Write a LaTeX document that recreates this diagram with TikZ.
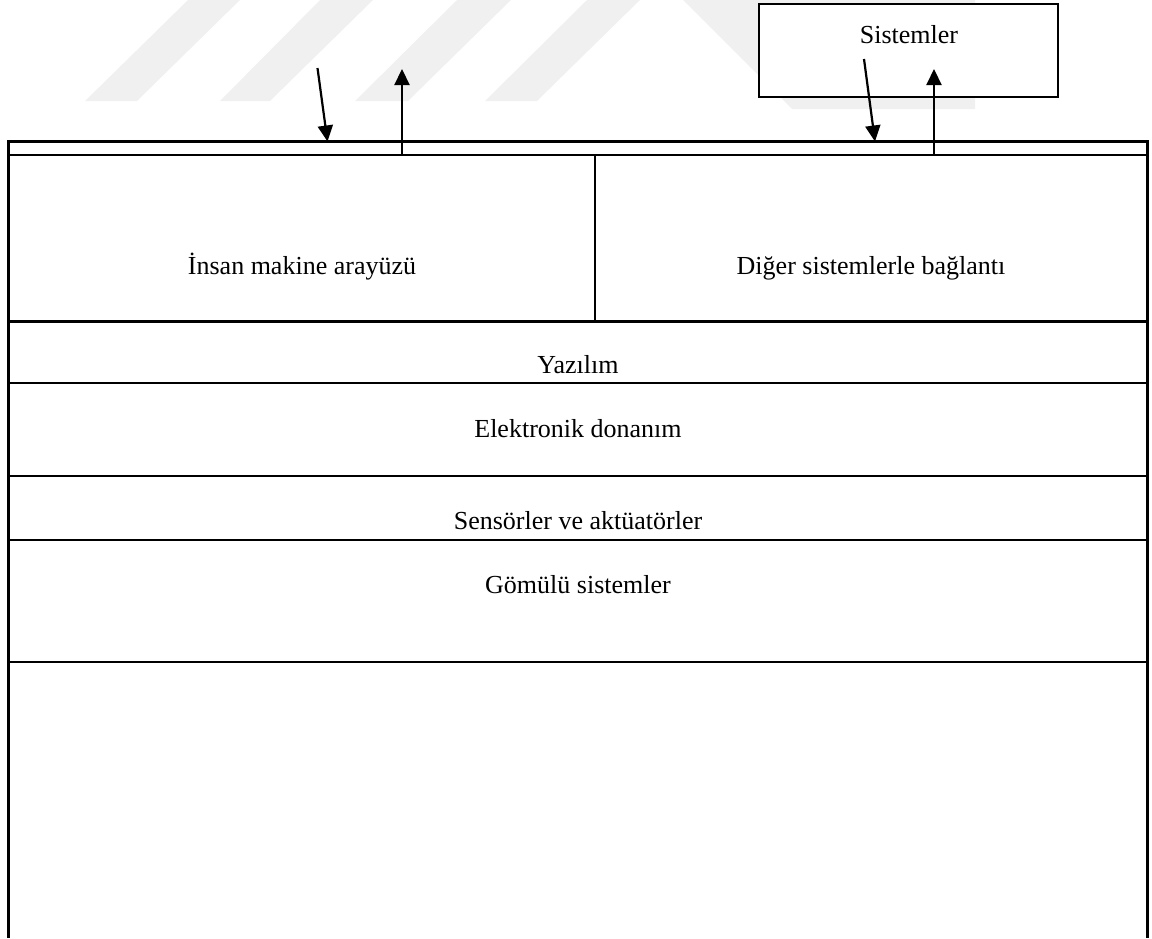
\documentclass[tikz,border=0pt]{standalone}
\usepackage{fontspec}
\setmainfont{Liberation Serif}
\usetikzlibrary{arrows.meta}
\tikzset{
  rowbox/.style={draw, line width=2.5pt, inner sep=0pt, outer sep=0pt, anchor=north west},
  lbl/.style={anchor=base, inner sep=0pt, font=\fontsize{26}{30}\selectfont},
  conn/.style={line width=2.2pt, -{Triangle[length=16pt,width=15pt]}},
  wmark/.style={fill=black!6, draw=none}
}
\begin{document}
\begin{tikzpicture}[x=1pt, y=-1pt]
\useasboundingbox (0,0) rectangle (1152,938);
% faint watermark
\fill[wmark] (85,101) -- (137,101) -- (240,0) -- (188,0) -- cycle;
\fill[wmark] (220,101) -- (270,101) -- (373,0) -- (320,0) -- cycle;
\fill[wmark] (355,101) -- (408,101) -- (511,0) -- (457,0) -- cycle;
\fill[wmark] (485,101) -- (537,101) -- (640,0) -- (587,0) -- cycle;
\fill[wmark] (683,0) -- (975,0) -- (975,109) -- (792,109) -- cycle;
% Sistemler box
\node[rowbox, fill=white, line width=2.2pt, minimum width=299pt, minimum height=93pt] (sys) at (759,4) {};
\node[lbl] (sysT) at (909,43) {Sistemler};
% rows
\node[rowbox, fill=white, minimum width=1139pt, minimum height=13.5pt] (strip) at (8.5,141.5) {};
\node[rowbox, minimum width=586.5pt, minimum height=166.5pt] (hmi) at (8.5,155) {};
\node[rowbox, minimum width=552.5pt, minimum height=166.5pt] (con) at (595,155) {};
\node[rowbox, minimum width=1139pt, minimum height=61.5pt] (sw) at (8.5,321.5) {};
\node[rowbox, minimum width=1139pt, minimum height=93pt] (hw) at (8.5,383) {};
\node[rowbox, minimum width=1139pt, minimum height=64pt] (sa) at (8.5,476) {};
\node[rowbox, minimum width=1139pt, minimum height=122pt] (emb) at (8.5,540) {};
% labels
\node[lbl] (hmiT) at (302,274.5) {İnsan makine arayüzü};
\node[lbl] (conT) at (871,274.5) {Diğer sistemlerle bağlantı};
\node[lbl] (swT) at (578,373) {Yazılım};
\node[lbl] (hwT) at (578,437.5) {Elektronik donanım};
\node[lbl] (saT) at (578,529) {Sensörler ve aktüatörler};
\node[lbl] (embT) at (578,593) {Gömülü sistemler};
% open bottom part
\coordinate (bl) at (8.5,938);
\coordinate (br) at (1147.5,938);
\draw[line width=2.5pt] (emb.south west) -- (bl);
\draw[line width=2.5pt] (emb.south east) -- (br);
% arrows
\coordinate (a1s) at (317.5,68);
\coordinate (a1e) at (327.5,141.5);
\coordinate (a2s) at (402,155);
\coordinate (a2e) at (402,69);
\coordinate (a3s) at (864,59);
\coordinate (a3e) at (875,141.5);
\coordinate (a4s) at (934,155);
\coordinate (a4e) at (934,69);
\draw[conn] (a1s) -- (a1e);
\draw[conn] (a2s) -- (a2e);
\draw[conn] (a3s) -- (a3e);
\draw[conn] (a4s) -- (a4e);
\end{tikzpicture}
\end{document}
